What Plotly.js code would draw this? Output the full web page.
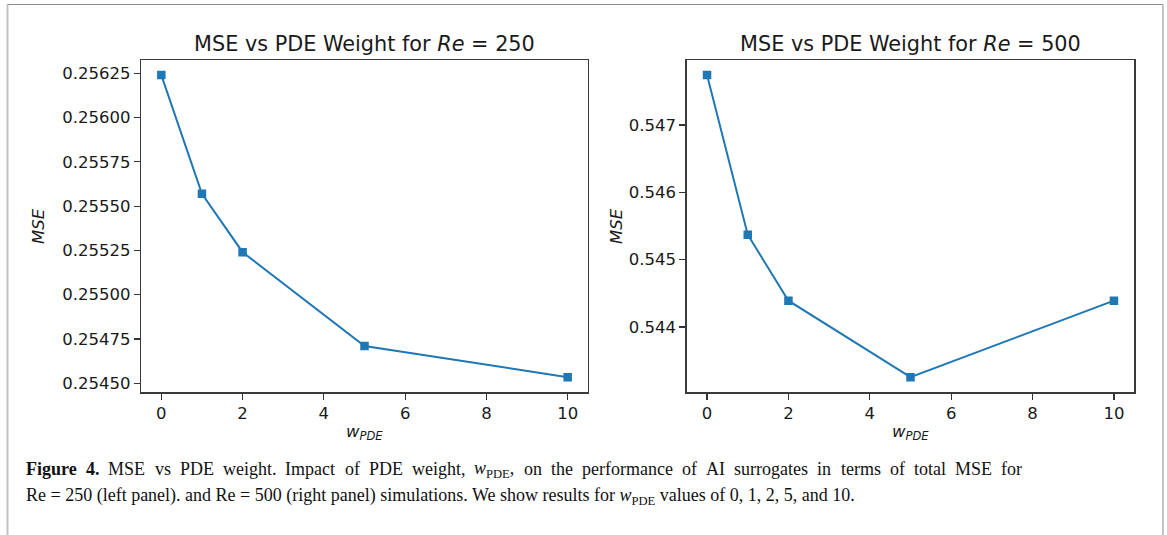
<!DOCTYPE html>
<html>
<head>
<meta charset="utf-8">
<script src="https://cdn.plot.ly/plotly-3.0.1.min.js"></script>
<style>
  html, body { margin: 0; padding: 0; background: #ffffff; }
  #fig { width: 1167px; height: 535px; }
</style>
</head>
<body>
<div id="fig"></div>
<script>
// PDE loss weights tried in training
const wPDE = [0, 1, 2, 5, 10];
// Total MSE of the surrogate for each weight
const mseRe250 = [0.25624, 0.25557, 0.25524, 0.25471, 0.254534];
const mseRe500 = [0.547742, 0.545371, 0.54439, 0.543253, 0.54439];
// Tick labels on the two MSE axes
const ticksRe250 = [0.25450, 0.25475, 0.25500, 0.25525, 0.25550, 0.25575, 0.25600, 0.25625];
const ticksRe500 = [0.544, 0.545, 0.546, 0.547];
const ticksW = [0, 2, 4, 6, 8, 10];

const W = 1167, H = 535;
const px = x => x / W;            // left-to-right pixel -> paper
const py = y => (H - y) / H;      // top-to-bottom pixel -> paper

// axis range with a 5% margin on either side of the data
function padded(v) {
  const lo = Math.min(...v), hi = Math.max(...v), m = (hi - lo) * 0.05;
  return [lo - m, hi + m];
}

const blue = '#1f77b4';
const sans = 'DejaVu Sans, sans-serif';
const serifName = 'Liberation Serif';
const serif = serifName + ', Times New Roman, serif';
const capSize = 18;

function series(y, xa, ya) {
  return {
    x: wPDE, y: y, xaxis: xa, yaxis: ya,
    type: 'scatter', mode: 'lines+markers',
    line: { color: blue, width: 2 },
    marker: { symbol: 'square', size: 8.5, color: blue },
    showlegend: false, hoverinfo: 'x+y'
  };
}

function xAxis(domain, anchor) {
  return {
    domain: domain, anchor: anchor,
    range: padded(wPDE), tickvals: ticksW, ticktext: ticksW.map(String),
    ticks: 'outside', ticklen: 6, tickwidth: 1.2, tickcolor: '#333',
    showline: true, mirror: true, linecolor: '#3a3a3a', linewidth: 1.3,
    showgrid: false, zeroline: false,
    tickfont: { family: sans, size: 16.5, color: '#1a1a1a' }
  };
}

function yAxis(domain, anchor, data, ticks, fmt) {
  return {
    domain: domain, anchor: anchor,
    range: padded(data), tickvals: ticks, tickformat: fmt,
    ticks: 'outside', ticklen: 6, tickwidth: 1.2, tickcolor: '#333',
    showline: true, mirror: true, linecolor: '#3a3a3a', linewidth: 1.3,
    showgrid: false, zeroline: false,
    tickfont: { family: sans, size: 16.5, color: '#1a1a1a' }
  };
}

const yDom = [py(392.3), py(60)];

function label(text, x, y, opts) {
  return Object.assign({
    text: text, xref: 'paper', yref: 'paper', x: px(x), y: py(y),
    xanchor: 'center', yanchor: 'middle', showarrow: false,
    font: { family: sans, size: 16.5, color: '#1a1a1a' }
  }, opts || {});
}

// Caption words; the first line is justified between two margins
const capLine1 = [
  { t: '<b>Figure</b>', parts: [['bold', 'Figure']] },
  { t: '<b>4.</b>', parts: [['bold', '4.']] },
  'MSE', 'vs', 'PDE', 'weight.', 'Impact', 'of', 'PDE', 'weight,',
  { t: '<i>w</i><sub>PDE</sub>,', parts: [['italic', 'w'], ['sub', 'PDE'], ['', ',']] },
  'on', 'the', 'performance', 'of', 'AI', 'surrogates', 'in', 'terms', 'of', 'total', 'MSE', 'for'
];
const capLine2 = 'Re = 250 (left panel). and Re = 500 (right panel) simulations. We show results for <i>w</i><sub>PDE</sub> values of 0, 1, 2, 5, and 10.';
const capLeft = 24, capRight = 1020;

const ctx = document.createElement('canvas').getContext('2d');
function measure(style, s) {
  const size = style === 'sub' ? capSize * 0.7 : capSize;
  const st = style === 'italic' ? 'italic ' : (style === 'bold' ? 'bold ' : '');
  ctx.font = st + size + 'px "' + serifName + '"';
  return ctx.measureText(s).width;
}
function wordWidth(w) {
  if (typeof w === 'string') return measure('', w);
  return w.parts.reduce((a, p) => a + measure(p[0], p[1]), 0);
}

function captionAnnotations() {
  const widths = capLine1.map(wordWidth);
  const total = widths.reduce((a, b) => a + b, 0);
  const gap = (capRight - capLeft - total) / (capLine1.length - 1);
  const out = [];
  let x = capLeft;
  capLine1.forEach((w, i) => {
    out.push(label(typeof w === 'string' ? w : w.t, x, 469,
      { xanchor: 'left', font: { family: serif, size: capSize, color: '#111' } }));
    x += widths[i] + gap;
  });
  out.push(label(capLine2, capLeft, 496,
    { xanchor: 'left', font: { family: serif, size: capSize, color: '#111' } }));
  return out;
}

// frame around the figure, open at the bottom
const shapes = [
  { type: 'line', xref: 'paper', yref: 'paper', x0: px(7), x1: px(1163), y0: py(4.5), y1: py(4.5), line: { color: '#8a8a8a', width: 1.2 } },
  { type: 'line', xref: 'paper', yref: 'paper', x0: px(7.5), x1: px(7.5), y0: py(4.5), y1: 0, line: { color: '#c4c4c4', width: 2 } },
  { type: 'line', xref: 'paper', yref: 'paper', x0: px(1163), x1: px(1163), y0: py(4.5), y1: 0, line: { color: '#c4c4c4', width: 2 } }
];

function draw() {
  const annotations = [
    label('MSE vs PDE Weight for <i>Re</i> = 250', 364.5, 44, { font: { family: sans, size: 20.8, color: '#1a1a1a' } }),
    label('MSE vs PDE Weight for <i>Re</i> = 500', 910.5, 44, { font: { family: sans, size: 20.8, color: '#1a1a1a' } }),
    label('<i>MSE</i>', 39, 226, { textangle: -90 }),
    label('<i>MSE</i>', 617, 226, { textangle: -90 }),
    label('<i>w</i><sub><i>PDE</i></sub>', 364.5, 432),
    label('<i>w</i><sub><i>PDE</i></sub>', 910.5, 432)
  ].concat(captionAnnotations());

  const layout = {
    width: W, height: H,
    margin: { l: 0, r: 0, t: 0, b: 0 },
    paper_bgcolor: '#ffffff', plot_bgcolor: '#ffffff',
    xaxis: xAxis([px(141), px(588)], 'y'),
    yaxis: yAxis(yDom, 'x', mseRe250, ticksRe250, '.5f'),
    xaxis2: xAxis([px(686.7), px(1134.3)], 'y2'),
    yaxis2: yAxis(yDom, 'x2', mseRe500, ticksRe500, '.3f'),
    annotations: annotations,
    shapes: shapes
  };

  Plotly.newPlot('fig', [series(mseRe250, 'x', 'y'), series(mseRe500, 'x2', 'y2')], layout,
    { displayModeBar: false, staticPlot: true });
}

if (document.fonts && document.fonts.load) {
  Promise.all([
    document.fonts.load(capSize + 'px "' + serifName + '"'),
    document.fonts.load('bold ' + capSize + 'px "' + serifName + '"'),
    document.fonts.load('italic ' + capSize + 'px "' + serifName + '"')
  ]).then(draw, draw);
} else {
  draw();
}
</script>
</body>
</html>
